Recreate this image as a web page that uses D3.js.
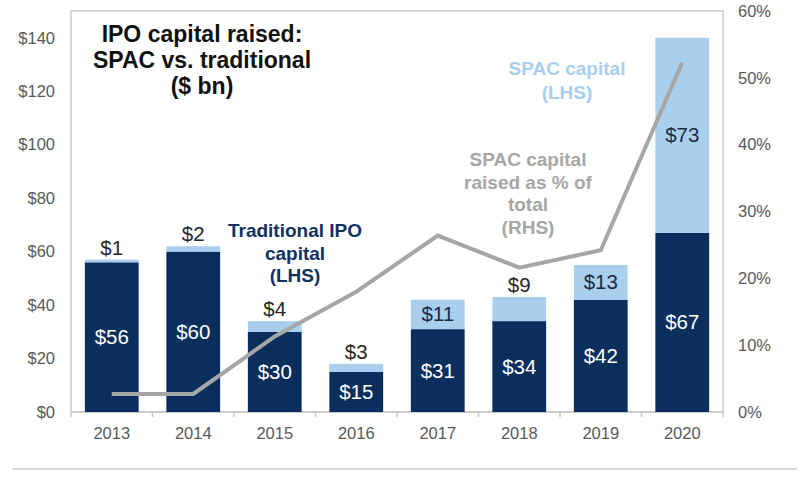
<!DOCTYPE html>
<html>
<head>
<meta charset="utf-8">
<script src="https://cdn.jsdelivr.net/npm/d3@7"></script>
<style>
body { margin:0; background:#fff; }
svg { font-family: "Liberation Sans", Arial, sans-serif; }
</style>
</head>
<body>
<svg id="chart" width="811" height="481"></svg>
<script>
// data
var years = ["2013","2014","2015","2016","2017","2018","2019","2020"]
var traditional = [56, 60, 30, 15, 31, 34, 42, 67]
var spac = [1, 2, 4, 3, 11, 9, 13, 73]
var spacShare = [2.7, 2.7, 11.3, 18, 26.4, 21.6, 24.2, 52.3] // % of total (RHS)
var leftTicks = [0, 20, 40, 60, 80, 100, 120, 140]
var rightTicks = [0, 10, 20, 30, 40, 50, 60]
var spacInside = [false, false, false, false, true, false, true, true]

var navy = "#0b2f5d", light = "#a9cfee", grey = "#a6a6a6", frame = "#c9c9c9", txt = "#595959"
// plot box (note: "top" is taken by window.top, so use px* names)
var pxLeft = 71, pxRight = 723, pxTop = 11, pxBottom = 412

var svg = d3.select("#chart")

var x = d3.scaleBand().domain(years).range([pxLeft, pxRight]).paddingInner(0.34).paddingOuter(0.17)
var yL = d3.scaleLinear().domain([0, 150]).range([pxBottom, pxTop])
var yR = d3.scaleLinear().domain([0, 60]).range([pxBottom, pxTop])

// frame
svg.append("rect")
	.attr("x", pxLeft).attr("y", pxTop)
	.attr("width", pxRight - pxLeft).attr("height", pxBottom - pxTop)
	.attr("fill", "none").attr("stroke", frame).attr("stroke-width", 1.5)

// axes
var gl = svg.append("g").attr("transform", "translate(" + pxLeft + ",0)")
	.call(d3.axisLeft(yL).tickValues(leftTicks).tickSize(0).tickPadding(16).tickFormat(function(d){ return "$" + d }))
gl.select(".domain").remove()
gl.selectAll("text").attr("fill", txt).style("font-size", "16.5px").style("font-family", "Liberation Sans, Arial, sans-serif")

var gr = svg.append("g").attr("transform", "translate(" + pxRight + ",0)")
	.call(d3.axisRight(yR).tickValues(rightTicks).tickSize(0).tickPadding(15).tickFormat(function(d){ return d + "%" }))
gr.select(".domain").remove()
gr.selectAll("text").attr("fill", txt).style("font-size", "16.5px").style("font-family", "Liberation Sans, Arial, sans-serif")

// x axis: ticks at category boundaries
var boundaries = d3.range(years.length + 1).map(function(i){ return pxLeft + i * (pxRight - pxLeft) / years.length })
svg.append("g").selectAll("line").data(boundaries).enter().append("line")
	.attr("x1", function(d){ return d }).attr("x2", function(d){ return d })
	.attr("y1", pxBottom).attr("y2", pxBottom + 5)
	.attr("stroke", frame).attr("stroke-width", 1.5)
svg.append("line").attr("x1", pxLeft).attr("x2", pxRight).attr("y1", pxBottom).attr("y2", pxBottom)
	.attr("stroke", frame).attr("stroke-width", 1.5)
svg.append("g").selectAll("text").data(years).enter().append("text")
	.attr("x", function(d){ return x(d) + x.bandwidth() / 2 })
	.attr("y", 439)
	.attr("text-anchor", "middle")
	.attr("fill", txt).style("font-size", "16.5px")
	.text(function(d){ return d })

// bars
var bars = svg.append("g")
bars.selectAll("rect.trad").data(years).enter().append("rect")
	.attr("class", "trad")
	.attr("x", function(d){ return x(d) })
	.attr("width", x.bandwidth())
	.attr("y", function(d, i){ return yL(traditional[i]) })
	.attr("height", function(d, i){ return yL(0) - yL(traditional[i]) })
	.attr("fill", navy)
bars.selectAll("rect.spac").data(years).enter().append("rect")
	.attr("class", "spac")
	.attr("x", function(d){ return x(d) })
	.attr("width", x.bandwidth())
	.attr("y", function(d, i){ return yL(traditional[i] + spac[i]) })
	.attr("height", function(d, i){ return yL(traditional[i]) - yL(traditional[i] + spac[i]) })
	.attr("fill", light)

// value labels
svg.append("g").selectAll("text").data(years).enter().append("text")
	.attr("x", function(d){ return x(d) + x.bandwidth() / 2 })
	.attr("y", function(d, i){ return yL(traditional[i] / 2) + 7 })
	.attr("text-anchor", "middle")
	.attr("fill", "#fff").style("font-size", "20.5px")
	.text(function(d, i){ return "$" + traditional[i] })
svg.append("g").selectAll("text").data(years).enter().append("text")
	.attr("x", function(d){ return x(d) + x.bandwidth() / 2 })
	.attr("y", function(d, i){
		if (spacInside[i]) return yL(traditional[i] + spac[i] / 2) + 7
		return yL(traditional[i] + spac[i]) - 5
	})
	.attr("text-anchor", "middle")
	.attr("fill", function(d, i){ return spacInside[i] ? "#1d2b3f" : "#262626" })
	.style("font-size", "20.5px")
	.text(function(d, i){ return "$" + spac[i] })

// share line
var line = d3.line()
	.x(function(d, i){ return x(years[i]) + x.bandwidth() / 2 })
	.y(function(d){ return yR(d) })
svg.append("path").datum(spacShare)
	.attr("d", line)
	.attr("fill", "none").attr("stroke", grey).attr("stroke-width", 4)

// annotations
function block(lines, cx, y0, dy, color, size) {
	var t = svg.append("text").attr("text-anchor", "middle").attr("fill", color)
		.style("font-size", size + "px").style("font-weight", "bold")
	lines.forEach(function(s, i){
		t.append("tspan").attr("x", cx).attr("y", y0 + i * dy).text(s)
	})
}
block(["IPO capital raised:", "SPAC vs. traditional", "($ bn)"], 202, 42, 26, "#111", 23)
block(["Traditional IPO", "capital", "(LHS)"], 295, 237, 22.5, "#10325f", 19)
block(["SPAC capital", "(LHS)"], 567, 75, 24, light, 19)
block(["SPAC capital", "raised as % of", "total", "(RHS)"], 528, 166, 22.5, grey, 19)

// rule at the bottom
svg.append("line").attr("x1", 12).attr("x2", 797).attr("y1", 469).attr("y2", 469)
	.attr("stroke", "#d9d9d9").attr("stroke-width", 2)
</script>
</body>
</html>
